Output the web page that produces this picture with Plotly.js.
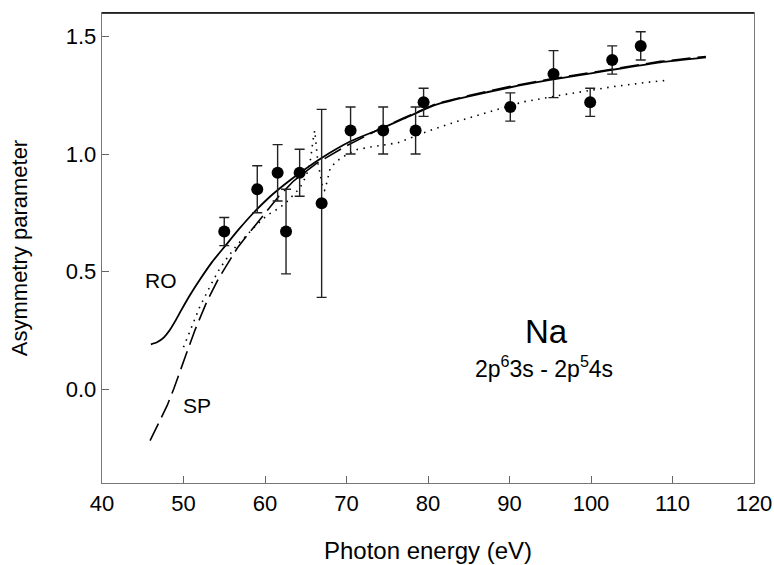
<!DOCTYPE html>
<html>
<head>
<meta charset="utf-8">
<script src="https://cdn.plot.ly/plotly-3.0.1.min.js"></script>
<style>html,body{margin:0;padding:0;background:#fff;}#chart{width:774px;height:565px;}</style>
</head>
<body>
<div id="chart"></div>
<script>
// Experimental data
const expX = [55.0, 59.05, 61.55, 62.58, 64.25, 66.95, 70.5, 74.5, 78.48, 79.46, 90.1, 95.4, 99.9, 102.6, 106.1];
const expY = [0.67, 0.85, 0.92, 0.67, 0.92, 0.79, 1.10, 1.10, 1.10, 1.22, 1.20, 1.34, 1.22, 1.40, 1.46];
const expErr = [0.06, 0.10, 0.12, 0.18, 0.10, 0.40, 0.10, 0.10, 0.10, 0.06, 0.06, 0.10, 0.06, 0.06, 0.06];

// RO curve (solid)
const roX = [46.0, 46.8, 47.6, 48.3, 49.0, 49.8, 50.8, 52.0, 53.5, 55.1, 56.8, 58.6, 60.5, 62.4, 64.3, 66.8, 70.5, 73.7, 77.0, 81.0, 85.0, 90.0, 95.0, 100.0, 104.0, 108.5, 114.1];
const roY = [0.19, 0.20, 0.22, 0.25, 0.29, 0.34, 0.40, 0.465, 0.54, 0.608, 0.68, 0.75, 0.815, 0.87, 0.92, 0.98, 1.054, 1.10, 1.15, 1.21, 1.245, 1.283, 1.315, 1.343, 1.366, 1.39, 1.411];

// SP curve (dashed)
const spX = [45.9, 46.7, 47.4, 48.0, 48.8, 49.6, 50.4, 51.4, 52.9, 54.3, 55.5, 56.6, 57.6, 59.0, 60.2, 61.7, 63.5, 66.4, 70.0, 73.7, 77.0, 81.0, 85.0, 90.0, 95.0, 100.0, 104.0, 108.5, 114.1];
const spY = [-0.22, -0.165, -0.115, -0.07, 0.0, 0.08, 0.155, 0.25, 0.375, 0.47, 0.54, 0.60, 0.645, 0.705, 0.76, 0.82, 0.885, 0.962, 1.035, 1.10, 1.153, 1.214, 1.249, 1.287, 1.319, 1.347, 1.37, 1.394, 1.415];

// Dotted curve
const dotX = [50.0, 51.0, 52.0, 53.3, 54.4, 55.3, 56.6, 57.5, 59.0, 60.3, 61.5, 62.5, 63.2, 64.3, 65.1, 65.6, 65.9, 66.1, 66.3, 66.5, 66.8, 67.1, 67.3, 67.6, 68.0, 68.8, 70.0, 71.3, 73.0, 75.0, 76.2, 78.0, 79.9, 83.6, 87.6, 91.7, 96.6, 99.9, 102.8, 106.9, 109.5];
const dotY = [0.178, 0.26, 0.35, 0.44, 0.51, 0.555, 0.615, 0.645, 0.70, 0.74, 0.765, 0.79, 0.815, 0.856, 0.91, 0.98, 1.06, 1.10, 1.03, 0.96, 0.91, 0.85, 0.845, 0.88, 0.94, 0.97, 0.997, 1.019, 1.03, 1.04, 1.047, 1.07, 1.096, 1.139, 1.181, 1.222, 1.252, 1.272, 1.287, 1.305, 1.314];

const xTicks = [40, 50, 60, 70, 80, 90, 100, 110, 120];
const yTicks = [0.0, 0.5, 1.0, 1.5];
const yTickText = ['0.0', '0.5', '1.0', '1.5'];

const FONT = 'Liberation Sans, Arial, sans-serif';

const traces = [
  {x: dotX, y: dotY, mode: 'lines', line: {color: '#000', width: 1.6, dash: '1.5px,5.5px'}, hoverinfo: 'skip'},
  {x: spX, y: spY, mode: 'lines', line: {color: '#000', width: 1.6, dash: '19px,7px'}, hoverinfo: 'skip'},
  {x: roX, y: roY, mode: 'lines', line: {color: '#000', width: 1.8, shape: 'spline', smoothing: 0.6}, hoverinfo: 'skip'},
  {x: expX, y: expY, mode: 'markers', marker: {color: '#000', size: 12},
   error_y: {type: 'data', array: expErr, visible: true, color: '#222', thickness: 1.4, width: 5}}
];

const layout = {
  width: 774, height: 565,
  margin: {l: 102, r: 20, t: 13, b: 82},
  paper_bgcolor: '#fff', plot_bgcolor: '#fff',
  showlegend: false,
  font: {family: FONT, color: '#000', size: 18},
  xaxis: {
    range: [40, 120], tickvals: xTicks, ticktext: xTicks.map(String),
    ticks: 'inside', ticklen: 7, tickcolor: '#666', tickwidth: 1,
    showline: true, linecolor: '#777', linewidth: 1.3, mirror: true,
    showgrid: false, zeroline: false,
    tickfont: {family: FONT, size: 22, color: '#000'},
    title: {text: 'Photon energy (eV)', font: {family: FONT, size: 24, color: '#000'}, standoff: 27}
  },
  yaxis: {
    range: [-0.4, 1.6], tickvals: yTicks, ticktext: yTickText,
    ticks: 'inside', ticklen: 7, tickcolor: '#666', tickwidth: 1,
    showline: true, linecolor: '#777', linewidth: 1.3, mirror: true,
    showgrid: false, zeroline: false,
    tickfont: {family: FONT, size: 22, color: '#000'},
    title: {text: 'Asymmetry parameter', font: {family: FONT, size: 22, color: '#000'}, standoff: 32}
  },
  shapes: [
    {type: 'line', xref: 'paper', yref: 'paper', x0: 0, x1: 1, y0: 1, y1: 1, line: {color: '#000', width: 1.3}}
  ],
  annotations: [
    {x: 47.2, y: 0.46, text: 'RO', showarrow: false, font: {family: FONT, size: 21, color: '#000'}},
    {x: 51.6, y: -0.07, text: 'SP', showarrow: false, font: {family: FONT, size: 21, color: '#000'}},
    {x: 94.6, y: 0.245, text: 'Na', showarrow: false, font: {family: FONT, size: 33, color: '#000'}},
    {x: 94.2, y: 0.095, text: '2p<sup>6</sup>3s - 2p<sup>5</sup>4s', showarrow: false, font: {family: FONT, size: 23, color: '#000'}}
  ]
};

Plotly.newPlot('chart', traces, layout, {displayModeBar: false, staticPlot: true});
</script>
</body>
</html>
